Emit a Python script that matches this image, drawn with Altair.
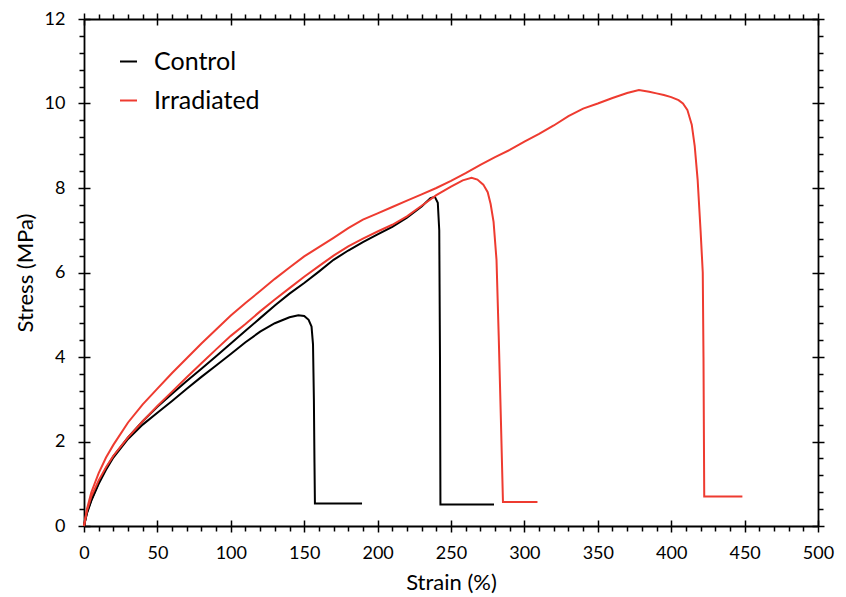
import altair as alt
import pandas as pd

# ---- data ----
control_a_x = [0, 2, 5, 10, 15, 20, 30, 40, 50, 60, 70, 80, 90, 100, 110, 120, 130, 140, 146, 150, 153, 155, 156, 156.6, 157, 157.3, 189.4]
control_a_y = [0, 0.3, 0.6, 1.0, 1.33, 1.62, 2.06, 2.4, 2.68, 2.96, 3.25, 3.53, 3.8, 4.07, 4.35, 4.6, 4.8, 4.94, 4.99, 4.97, 4.88, 4.72, 4.3, 3.0, 1.5, 0.53, 0.53]

control_b_x = [0, 2, 5, 10, 15, 20, 30, 40, 50, 60, 70, 80, 90, 100, 110, 120, 130, 140, 150, 160, 170, 180, 190, 200, 210, 220, 230, 236, 239, 241, 242, 242.5, 242.8, 279.3]
control_b_y = [0, 0.32, 0.62, 1.02, 1.37, 1.65, 2.1, 2.48, 2.82, 3.13, 3.43, 3.72, 4.02, 4.32, 4.62, 4.92, 5.22, 5.5, 5.75, 6.02, 6.3, 6.52, 6.72, 6.9, 7.08, 7.3, 7.56, 7.76, 7.79, 7.65, 7.0, 4.0, 0.51, 0.51]

irr_a_x = [0, 2, 5, 10, 15, 20, 30, 40, 50, 60, 70, 80, 90, 100, 110, 120, 130, 140, 150, 160, 170, 180, 190, 200, 210, 220, 230, 240, 250, 258, 264, 268, 272, 275, 277, 279, 281, 282.5, 284, 285.4, 308.9]
irr_a_y = [0, 0.36, 0.7, 1.08, 1.39, 1.66, 2.1, 2.48, 2.84, 3.18, 3.52, 3.85, 4.18, 4.5, 4.78, 5.08, 5.36, 5.63, 5.9, 6.15, 6.4, 6.62, 6.8, 6.97, 7.13, 7.33, 7.58, 7.83, 8.03, 8.18, 8.24, 8.2, 8.08, 7.9, 7.62, 7.2, 6.3, 4.5, 2.5, 0.57, 0.57]

irr_b_x = [0, 2, 5, 10, 15, 20, 30, 40, 50, 60, 70, 80, 90, 100, 110, 120, 130, 140, 150, 160, 170, 180, 190, 200, 210, 220, 230, 240, 250, 260, 270, 280, 290, 300, 310, 320, 330, 340, 350, 360, 370, 378, 385, 390, 395, 400, 405, 408, 411, 414, 416, 418, 420, 421.5, 422, 422.5, 448.5]
irr_b_y = [0, 0.4, 0.8, 1.25, 1.62, 1.92, 2.45, 2.88, 3.25, 3.62, 3.97, 4.32, 4.65, 4.98, 5.28, 5.56, 5.85, 6.12, 6.38, 6.6, 6.82, 7.05, 7.25, 7.4, 7.55, 7.7, 7.85, 8.0, 8.17, 8.35, 8.55, 8.73, 8.9, 9.1, 9.28, 9.48, 9.7, 9.88, 10.0, 10.13, 10.25, 10.32, 10.28, 10.24, 10.2, 10.15, 10.08, 10.0, 9.85, 9.5, 9.0, 8.2, 7.0, 6.0, 4.0, 0.7, 0.7]

groups = ["Control", "Irradiated"]
colors = ["#000000", "#EE3B30"]

x_major = list(range(0, 501, 50))
x_minor = [v for v in range(0, 501, 10) if v % 50 != 0]
y_major = list(range(0, 13, 2))
y_minor = [round(i * 0.4, 1) for i in range(31) if i % 5 != 0]

rows = []
for spec, grp, xs_, ys_ in [
    ("C1", "Control", control_a_x, control_a_y),
    ("C2", "Control", control_b_x, control_b_y),
    ("I1", "Irradiated", irr_a_x, irr_a_y),
    ("I2", "Irradiated", irr_b_x, irr_b_y),
]:
    for i, (xv, yv) in enumerate(zip(xs_, ys_)):
        rows.append({"specimen": spec, "group": grp, "strain": xv, "stress": yv, "idx": i})
df = pd.DataFrame(rows)

FONT = "Lato"
xscale = alt.Scale(domain=[0, 500], nice=False)
yscale = alt.Scale(domain=[0, 12], nice=False)


def ax(orient, values, size, domain=False, offset=0):
    return alt.Axis(orient=orient, values=values, tickSize=size, labels=False,
                    domain=domain, offset=offset, grid=False, title=None,
                    tickColor="black", tickWidth=1.5, domainColor="black", domainWidth=1.8)


main = alt.Chart(df).mark_line(strokeWidth=2).encode(
    x=alt.X("strain:Q", scale=xscale,
            axis=alt.Axis(orient="bottom", values=x_major, tickSize=6, title="Strain (%)",
                          grid=False, tickColor="black", tickWidth=1.5, labelFlush=False,
                          domainColor="black", domainWidth=1.8, labelPadding=12,
                          titlePadding=10, labelColor="black", titleColor="black")),
    y=alt.Y("stress:Q", scale=yscale,
            axis=alt.Axis(orient="left", values=y_major, tickSize=6, title="Stress (MPa)",
                          grid=False, tickColor="black", tickWidth=1.5, labelFlush=False,
                          domainColor="black", domainWidth=1.8, labelPadding=13,
                          titlePadding=7, labelColor="black", titleColor="black")),
    color=alt.Color("group:N", scale=alt.Scale(domain=groups, range=colors),
                    legend=alt.Legend(title=None, orient="none", legendX=32, legendY=30,
                                      symbolType="stroke", symbolSize=289, symbolStrokeWidth=2,
                                      labelFontSize=25, labelFont=FONT, labelOffset=13,
                                      rowPadding=13, padding=0, labelColor="black")),
    detail="specimen:N",
    order="idx:Q",
)


def ghost(xaxis, yaxis):
    return alt.Chart(df).mark_point(opacity=0).encode(
        x=alt.X("strain:Q", scale=xscale, axis=xaxis),
        y=alt.Y("stress:Q", scale=yscale, axis=yaxis),
    )


layers = [
    main,
    ghost(ax("bottom", x_minor, 5), ax("left", y_minor, 5)),
    ghost(ax("top", x_major, 6, domain=True), ax("right", y_major, 6, domain=True)),
    ghost(ax("top", x_minor, 5), ax("right", y_minor, 5)),
    ghost(ax("bottom", x_major, 6, offset=-6), ax("left", y_major, 6, offset=-6)),
    ghost(ax("top", x_major, 6, offset=-6), ax("right", y_major, 6, offset=-6)),
]

chart = alt.layer(*layers).resolve_axis(x="independent", y="independent").properties(
    width=734, height=507,
    autosize=alt.AutoSizeParams(type="none"),
    padding={"left": 76, "top": 11, "right": 20, "bottom": 72},
).configure_axis(
    labelFont=FONT, titleFont=FONT, labelFontSize=18, titleFontSize=22,
    titleFontWeight="normal",
).configure_view(stroke=None)

chart.save("out.html", embed_options={"renderer": "svg", "actions": False})
